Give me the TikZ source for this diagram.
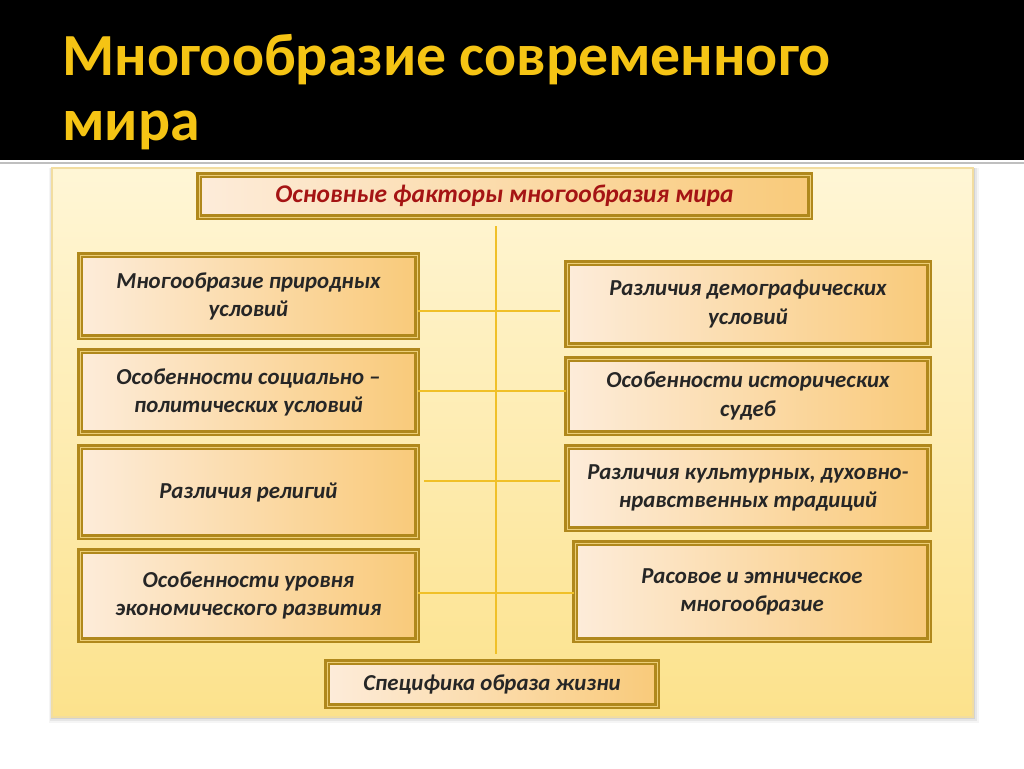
\documentclass[tikz,border=0pt]{standalone}
\usepackage{fontspec}
\setmainfont{Carlito}
\usetikzlibrary{calc}

\definecolor{titlegold}{RGB}{245,196,20}
\definecolor{panelA}{RGB}{255,246,214}
\definecolor{panelB}{RGB}{252,226,140}
\definecolor{boxA}{RGB}{253,236,218}
\definecolor{boxB}{RGB}{249,202,122}
\definecolor{rimgold}{RGB}{176,136,28}
\definecolor{rimlight}{RGB}{236,206,120}
\definecolor{linkgold}{RGB}{240,192,40}
\definecolor{headred}{RGB}{165,20,20}

\tikzset{
  factor/.style={draw=rimgold, line width=1.3pt, double=rimlight, double distance=0.5pt,
    left color=boxA, right color=boxB, inner sep=0pt, align=center,
    font=\fontsize{13}{16}\selectfont\bfseries\itshape, text=black!85},
  link/.style={draw=linkgold, line width=1.1pt},
  heading/.style={anchor=base west, inner sep=0pt, text=titlegold, font=\fontsize{34}{40}\selectfont\bfseries}
}

\begin{document}
\begin{tikzpicture}[x=0.02cm, y=-0.02cm]
    \useasboundingbox (0,0) rectangle (1024,768);
    \fill[white] (0,0) rectangle (1024,768);
    \fill[black] (0,0) rectangle (1024,160);
    \draw[black!25, line width=1.5pt] (0,163) -- (1024,163);
    \node[heading] (title1) at (62,75) {Многообразие современного};
    \node[heading] (title2) at (62,140) {мира};

    \foreach \s/\o in {6/0.04,4/0.06,2/0.08}{
      \fill[black, opacity=\o] (52-\s/2,168) rectangle (973+\s,717+\s);
    }
    \shade[top color=panelA, bottom color=panelB] (52,168) rectangle (973,717);
    \draw[rimlight!70, line width=0.6pt] (52,168) rectangle (973,717);

    \node[factor, minimum width=12.22cm, minimum height=0.84cm, text=headred, font=\fontsize{14.5}{16}\selectfont\bfseries\itshape] (top) at (504.5,196) {Основные факторы многообразия мира};

    \node[factor, minimum width=6.74cm, minimum height=1.64cm] (l1) at (248.5,296) {Многообразие природных\\условий};
    \node[factor, minimum width=6.74cm, minimum height=1.64cm] (l2) at (248.5,392) {Особенности социально --\\политических условий};
    \node[factor, minimum width=6.74cm, minimum height=1.8cm] (l3) at (248.5,492) {Различия религий};
    \node[factor, minimum width=6.74cm, minimum height=1.78cm] (l4) at (248.5,595.5) {Особенности уровня\\экономического развития};

    \node[factor, minimum width=7.24cm, minimum height=1.64cm] (r1) at (748,304) {Различия демографических\\условий};
    \node[factor, minimum width=7.24cm, minimum height=1.48cm] (r2) at (748,396) {Особенности исторических\\судеб};
    \node[factor, minimum width=7.24cm, minimum height=1.64cm] (r3) at (748,488) {Различия культурных, духовно-\\нравственных традиций};
    \node[factor, minimum width=7.08cm, minimum height=1.94cm] (r4) at (752,591.5) {Расовое и этническое\\многообразие};

    \node[factor, minimum width=6.6cm, minimum height=0.88cm] (bot) at (492,684) {Специфика образа жизни};

    \coordinate (spine) at (496,0);
    \draw[link, shorten <=8pt*0.567, shorten >=7pt*0.567] (top.south -| spine) -- (bot.north -| spine);
    \draw[link] (l1.east |- 0,311) -- ($(r1.west |- 0,311)+(-6,0)$);
    \draw[link] (l2.east |- 0,391) -- (r2.west |- 0,391);
    \draw[link] ($(l3.east |- 0,481)+(6,0)$) -- ($(r3.west |- 0,481)+(-6,0)$);
    \draw[link] (l4.east |- 0,593) -- (r4.west |- 0,593);
\end{tikzpicture}
\end{document}
